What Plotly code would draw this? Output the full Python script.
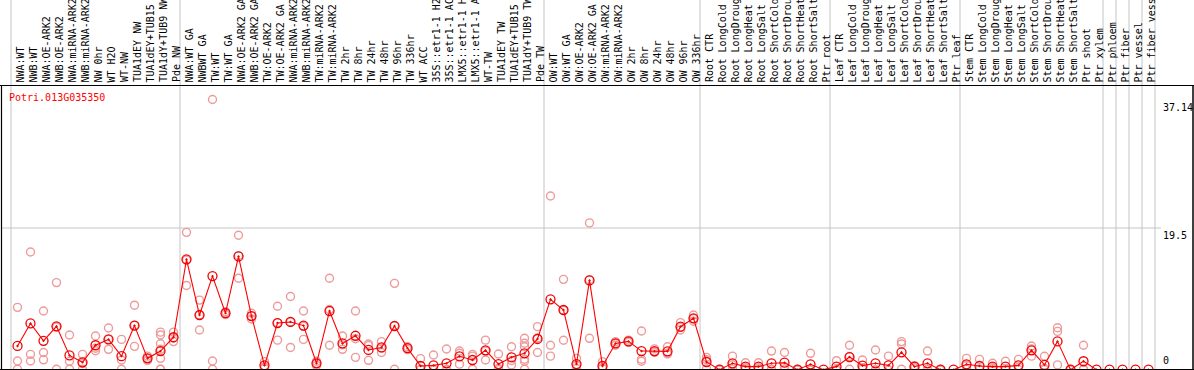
import plotly.graph_objects as go

W, H = 1194, 370

labels = [
    "NWA:WT", "NWB:WT", "NWA:OE-ARK2", "NWB:OE-ARK2", "NWA:miRNA-ARK2", "NWB:miRNA-ARK2",
    "NW 0hr", "WT H2O", "WT-NW", "TUA1dEY NW", "TUA1dEY+TUB15 ", "TUA1dY+TUB9 NW", "Pde NW",
    "NWA:WT GA", "NWBWT GA", "TW:WT", "TW:WT GA", "NWA:OE-ARK2 GA", "NWB:OE-ARK2 GA",
    "TW:OE-ARK2", "TW:OE-ARK2 GA", "NWA:miRNA-ARK2", "NWB:miRNA-ARK2", "TW:miRNA-ARK2",
    "TW:miRNA-ARK2", "TW 2hr", "TW 8hr", "TW 24hr", "TW 48hr", "TW 96hr", "TW 336hr",
    "WT ACC", "35S::etr1-1 H2", "35S::etr1-1 AC", "LMX5::etr1-1 H", "LMX5::etr1-1 A",
    "WT-TW", "TUA1dEY TW", "TUA1dEY+TUB15 ", "TUA1dY+TUB9 TW", "Pde TW",
    "OW:WT", "OW:WT GA", "OW:OE-ARK2", "OW:OE-ARK2 GA", "OW:miRNA-ARK2", "OW:miRNA-ARK2",
    "OW 2hr", "OW 8hr", "OW 24hr", "OW 48hr", "OW 96hr", "OW 336hr",
    "Root CTR", "Root LongCold", "Root LongDroug", "Root LongHeat", "Root LongSalt",
    "Root ShortCold", "Root ShortDrou", "Root ShortHeat", "Root ShortSalt", "Ptr root",
    "Leaf CTR", "Leaf LongCold", "Leaf LongDroug", "Leaf LongHeat", "Leaf LongSalt",
    "Leaf ShortCold", "Leaf ShortDrou", "Leaf ShortHeat", "Leaf ShortSalt", "Ptr leaf",
    "Stem CTR", "Stem LongCold", "Stem LongDroug", "Stem LongHeat", "Stem LongSalt",
    "Stem ShortCold", "Stem ShortDrou", "Stem ShortHeat", "Stem ShortSalt", "Ptr shoot",
    "Ptr xylem", "Ptr phloem", "Ptr fiber", "Ptr vessel", "Ptr fiber vess",
]

# group boundaries (index of first column of each group, plus end)
group_starts = [0, 13, 41, 53, 63, 73, 84, 85, 86, 87, 88]

mean_vals = [
    3.3, 6.4, 4.0, 6.0, 2.0, 1.05, 3.4, 4.2, 1.9, 6.1, 1.6, 2.6, 4.5,
    15.2, 7.55, 12.9, 7.8, 15.6, 7.4, 0.64, 6.45, 6.6, 6.1, 0.92, 8.1, 3.65, 4.7,
    2.75, 3.1, 6.04, 3.0, 0.55, 0.64, 0.92, 1.88, 1.37, 2.7, 0.82, 1.74, 2.29, 4.26,
    9.7, 8.24, 0.82, 12.3, 0.55, 3.65, 3.93, 2.6, 2.6, 2.56, 5.95, 7.1,
    1.1, 0.05, 0.92, 0.46, 0.46, 0.92, 1.0, 0.05, 0.78, 0.05,
    0.46, 1.78, 0.6, 0.92, 0.64, 2.43, 0.46, 0.92, 0.05, 0.05,
    0.78, 0.55, 0.46, 0.46, 0.64, 2.7, 0.7, 3.93, 0.05, 1.2, 0.05,
    0.05, 0.05, 0.05, 0.05,
]

replicates = [
    [8.6, 1.24, 0.1], [16.2, 2.15, 1.24], [8.1, 2.4, 1.4], [12.0, 5.9, 0.1],
    [4.8, 1.2, 0.1], [2.15, 0.9, 0.1], [4.67, 2.98, 2.65], [5.77, 4.2, 2.84],
    [4.2, 1.37, 0.1], [8.9, 6.15, 3.25], [1.9, 1.6, 1.3],
    [5.2, 4.8, 3.6, 2.84, 1.6, 0.1, 0.1], [5.2, 4.4, 3.9],
    [18.9, 15.1, 11.6], [9.6, 7.55, 5.5], [37.14, 1.24, 0.1], [8.0, 7.8, 7.6],
    [18.5, 15.7, 12.6], [7.8, 7.4, 7.0], [1.15, 0.45, 0.3], [8.75, 6.5, 4.1],
    [10.1, 6.6, 3.1], [8.1, 6.0, 4.2], [1.2, 0.9, 0.6], [12.6, 8.3, 3.4],
    [4.67, 3.45, 2.84], [8.1, 4.3, 1.74], [3.57, 3.35, 1.33], [3.9, 3.0, 2.4],
    [11.9, 6.1, 0.1], [3.2, 3.0, 2.8], [1.56, 0.1, 0.05], [2.06, 0.05, 0.0],
    [2.88, 0.1, 0.0], [2.6, 2.3, 0.8], [2.15, 1.9, 0.1], [4.1, 2.6, 1.37],
    [2.2, 0.2, 0.05], [3.2, 1.3, 0.7], [4.35, 3.67, 3.2, 1.47, 1.2, 0.1],
    [5.95, 4.4, 2.4],
    [23.9, 3.4, 1.9], [12.45, 8.2, 4.08], [1.6, 0.6, 0.2], [20.2, 12.4, 4.35],
    [1.15, 0.3, 0.2], [3.9, 3.65, 3.4], [4.1, 3.9, 3.8], [5.35, 1.47, 1.2],
    [2.9, 2.5, 2.4], [3.2, 2.3, 2.2], [6.5, 5.85, 5.5], [7.55, 7.05, 6.7],
    [1.74, 1.4, 0.15], [0.1, 0.05, 0.0], [1.9, 0.7, 0.15], [1.0, 0.3, 0.1],
    [1.0, 0.3, 0.1], [2.6, 0.1, 0.05], [2.4, 0.46, 0.14], [0.1, 0.05, 0.0],
    [2.29, 0.05, 0.0], [],
    [1.28, 0.1, 0.0], [3.4, 1.85, 0.1], [1.37, 0.3, 0.1], [2.75, 0.0, 0.0],
    [1.9, 0.0, 0.0], [3.9, 3.57, 0.1], [0.6, 0.5, 0.3], [2.6, 0.1, 0.05],
    [0.1, 0.05, 0.0], [],
    [1.6, 0.65, 0.1], [1.46, 0.1, 0.1], [0.92, 0.3, 0.15], [1.2, 0.1, 0.1],
    [1.46, 0.4, 0.05], [3.3, 2.9, 1.9], [1.88, 0.2, 0.05], [5.8, 5.3, 0.7],
    [0.1, 0.05, 0.0], [3.4, 0.1, 0.1], [],
    [], [], [], [],
]

gene_name = "Potri.013G035350"
y_ticks = [37.14, 19.5, 0]

# ---- geometry ----
COL_W = 13.0
X0 = 17.5            # pixel centre of first column
PX_PER_UNIT = 7.282  # vertical scale
x_range = [-X0 / COL_W, (W - X0) / COL_W]
y_range = [0, H / PX_PER_UNIT]

def px_x(p):
    return p / W

def px_y(p):  # pixel from top -> paper
    return (H - p) / H

idx = list(range(len(labels)))
rx, ry = [], []
for i, reps in enumerate(replicates):
    for v in reps:
        rx.append(i)
        ry.append(v)

fig = go.Figure()
fig.add_trace(go.Scatter(
    x=rx, y=ry, mode="markers",
    marker=dict(symbol="circle-open", size=8, color="#ee9a9a", line=dict(width=1.4, color="#ee9a9a")),
    hoverinfo="skip",
))
fig.add_trace(go.Scatter(
    x=idx, y=mean_vals, mode="lines+markers",
    line=dict(color="#ff0000", width=1.1),
    marker=dict(symbol="circle-open-dot", size=9, color="#f00000", line=dict(width=1.3, color="#f00000")),
    hoverinfo="skip",
))

shapes = []
GRAY = "#c4c4c4"
for b in group_starts:
    shapes.append(dict(type="line", xref="x", yref="paper", x0=b - 0.5, x1=b - 0.5, y0=0, y1=1,
                       line=dict(color=GRAY, width=1), layer="below"))
# horizontal reference line at 19.5
shapes.append(dict(type="line", xref="paper", yref="y", x0=px_x(1), x1=px_x(1161), y0=19.5, y1=19.5,
                   line=dict(color=GRAY, width=1), layer="below"))
# black frame lines
BLK = "#000000"
shapes.append(dict(type="line", xref="paper", yref="paper", x0=0, x1=1, y0=px_y(85.5), y1=px_y(85.5),
                   line=dict(color=BLK, width=1)))
shapes.append(dict(type="line", xref="paper", yref="paper", x0=0, x1=1, y0=px_y(369.5), y1=px_y(369.5),
                   line=dict(color=BLK, width=1.2)))
shapes.append(dict(type="line", xref="paper", yref="paper", x0=px_x(1.5), x1=px_x(1.5), y0=0, y1=px_y(85.5),
                   line=dict(color=BLK, width=1.2)))
shapes.append(dict(type="line", xref="paper", yref="paper", x0=px_x(1193), x1=px_x(1193), y0=0, y1=px_y(85.5),
                   line=dict(color=BLK, width=1.5)))

FONT = "DejaVu Sans Mono"
annotations = []
for i, lab in enumerate(labels):
    annotations.append(dict(
        x=i, xref="x", y=px_y(83.5), yref="paper", xshift=2.5,
        text=lab.replace(" ", "&nbsp;"), textangle=-90, showarrow=False,
        xanchor="center", yanchor="bottom",
        font=dict(family=FONT, size=10, color="#000000"),
        borderpad=0,
    ))
annotations.append(dict(
    x=px_x(8), xref="paper", y=px_y(98), yref="paper", text=gene_name, showarrow=False,
    xanchor="left", yanchor="middle", font=dict(family=FONT, size=10, color="#ff0000"), borderpad=0,
))
for v in y_ticks:
    annotations.append(dict(
        x=px_x(1162), xref="paper", y=v if v > 0 else 0.35, yref="y",
        yshift=-1 if v > 0 else 0,
        text=(f"{v:g}"), showarrow=False,
        xanchor="left", yanchor="top" if v > 0 else "bottom",
        font=dict(family=FONT, size=10, color="#000000"), borderpad=0,
    ))

fig.update_layout(
    width=W, height=H,
    margin=dict(l=0, r=0, t=0, b=0),
    paper_bgcolor="white", plot_bgcolor="white",
    showlegend=False,
    xaxis=dict(range=x_range, visible=False, fixedrange=True),
    yaxis=dict(range=y_range, visible=False, fixedrange=True),
    shapes=shapes, annotations=annotations,
)

fig.write_html(
    "out.html",
    config={"displayModeBar": False},
    post_script="document.body.style.margin='0';document.body.style.overflow='hidden';",
)
